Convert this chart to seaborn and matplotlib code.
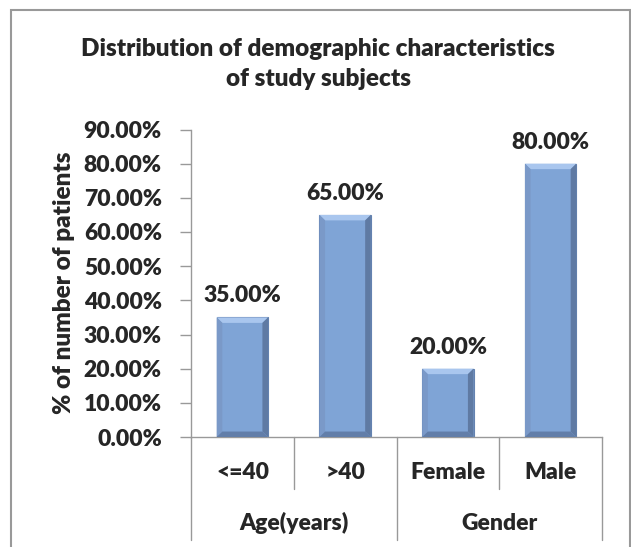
import numpy as np
import pandas as pd
import matplotlib
matplotlib.use('Agg')
import matplotlib.pyplot as plt
import matplotlib.transforms as mtransforms
from matplotlib.patches import Polygon, Rectangle
import seaborn as sns

# values
categories = ['<=40', '>40', 'Female', 'Male']
groups = ['Age(years)', 'Age(years)', 'Gender', 'Gender']
group_names = ['Age(years)', 'Gender']
percent = [35.0, 65.0, 20.0, 80.0]
y_ticks = [0, 10, 20, 30, 40, 50, 60, 70, 80, 90]

sns.set_style('white')
plt.rcParams['font.family'] = ['Lato', 'DejaVu Sans']
plt.rcParams['font.weight'] = 'heavy'
W = 'heavy'
FS = 16.5

df = pd.DataFrame({'Category': categories, 'Group': groups, 'Percent': percent})

fig = plt.figure(figsize=(6.31, 5.47), dpi=100)
ax = fig.add_axes([191 / 631, 1 - 437 / 547, 411 / 631, 307.5 / 547])

sns.barplot(data=df, x='Category', y='Percent', color='#7fa4d6', saturation=1,
            width=0.5, edgecolor='#6482b0', linewidth=0.8, ax=ax)

ax.set_xlim(-0.5, len(categories) - 0.5)
ax.set_ylim(0, 90)
ax.set_yticks(y_ticks)
ax.set_yticklabels([f'{v:.2f}%' for v in y_ticks], fontsize=FS, fontweight=W)
ax.set_xticks([])
ax.set_xlabel('')
ax.set_ylabel('% of number of patients', fontsize=17.5, fontweight=W)
ax.yaxis.set_label_coords(-0.282, 0.5)
ax.tick_params(axis='y', direction='out', length=8, width=1, color='#999999', pad=13, left=True)

for side in ['top', 'right']:
    ax.spines[side].set_visible(False)
for side in ['left', 'bottom']:
    ax.spines[side].set_color('#999999')
    ax.spines[side].set_linewidth(1)

# bevel look on the bars
dx, dy = 0.055, 1.6
for p in ax.patches:
    x0, y0 = p.get_x(), p.get_y()
    x1, y1 = x0 + p.get_width(), y0 + p.get_height()
    ax.add_patch(Polygon([(x0, y1), (x1, y1), (x1 - dx, y1 - dy), (x0 + dx, y1 - dy)],
                         closed=True, fc='#a9c6ee', ec='none', zorder=3))
    ax.add_patch(Polygon([(x1, y1), (x1, y0), (x1 - dx, y0 + dy), (x1 - dx, y1 - dy)],
                         closed=True, fc='#5f7aa3', ec='none', zorder=3))
    ax.add_patch(Polygon([(x0, y1), (x0 + dx, y1 - dy), (x0 + dx, y0 + dy), (x0, y0)],
                         closed=True, fc='#7a99c8', ec='none', zorder=3))
    ax.add_patch(Polygon([(x0, y0), (x0 + dx, y0 + dy), (x1 - dx, y0 + dy), (x1, y0)],
                         closed=True, fc='#627ea9', ec='none', zorder=3))

ax.bar_label(ax.containers[0], labels=[f'{v:.2f}%' for v in percent],
             padding=8, fontsize=FS, fontweight=W)

# two-level category axis
trans = mtransforms.blended_transform_factory(ax.transData, ax.transAxes)
for i, cat in enumerate(categories):
    ax.text(i, -0.117, cat, transform=trans, ha='center', va='center',
            fontsize=FS, fontweight=W)
for i in range(1, len(categories)):
    if groups[i] == groups[i - 1]:
        ax.plot([i - 0.5, i - 0.5], [0, -0.169], transform=trans, clip_on=False,
                color='#999999', lw=1)
edges = [-0.5]
for i in range(1, len(categories)):
    if groups[i] != groups[i - 1]:
        edges.append(i - 0.5)
edges.append(len(categories) - 0.5)
for e in edges:
    ax.plot([e, e], [0, -0.335], transform=trans, clip_on=False, color='#999999', lw=1)
for g, a, b in zip(group_names, edges[:-1], edges[1:]):
    ax.text((a + b) / 2, -0.28, g, transform=trans, ha='center', va='center',
            fontsize=FS, fontweight=W)

fig.text(318 / 631, 1 - 64 / 547,
         'Distribution of demographic characteristics\nof study subjects',
         ha='center', va='center', fontsize=17.5, fontweight=W, linespacing=1.5)

fig.add_artist(Rectangle((11 / 631, -0.1), (630 - 11) / 631, 1.1 - 10 / 547,
                         transform=fig.transFigure, fill=False, ec='#999999', lw=1.5))

fig.savefig('out.png', dpi=100)
